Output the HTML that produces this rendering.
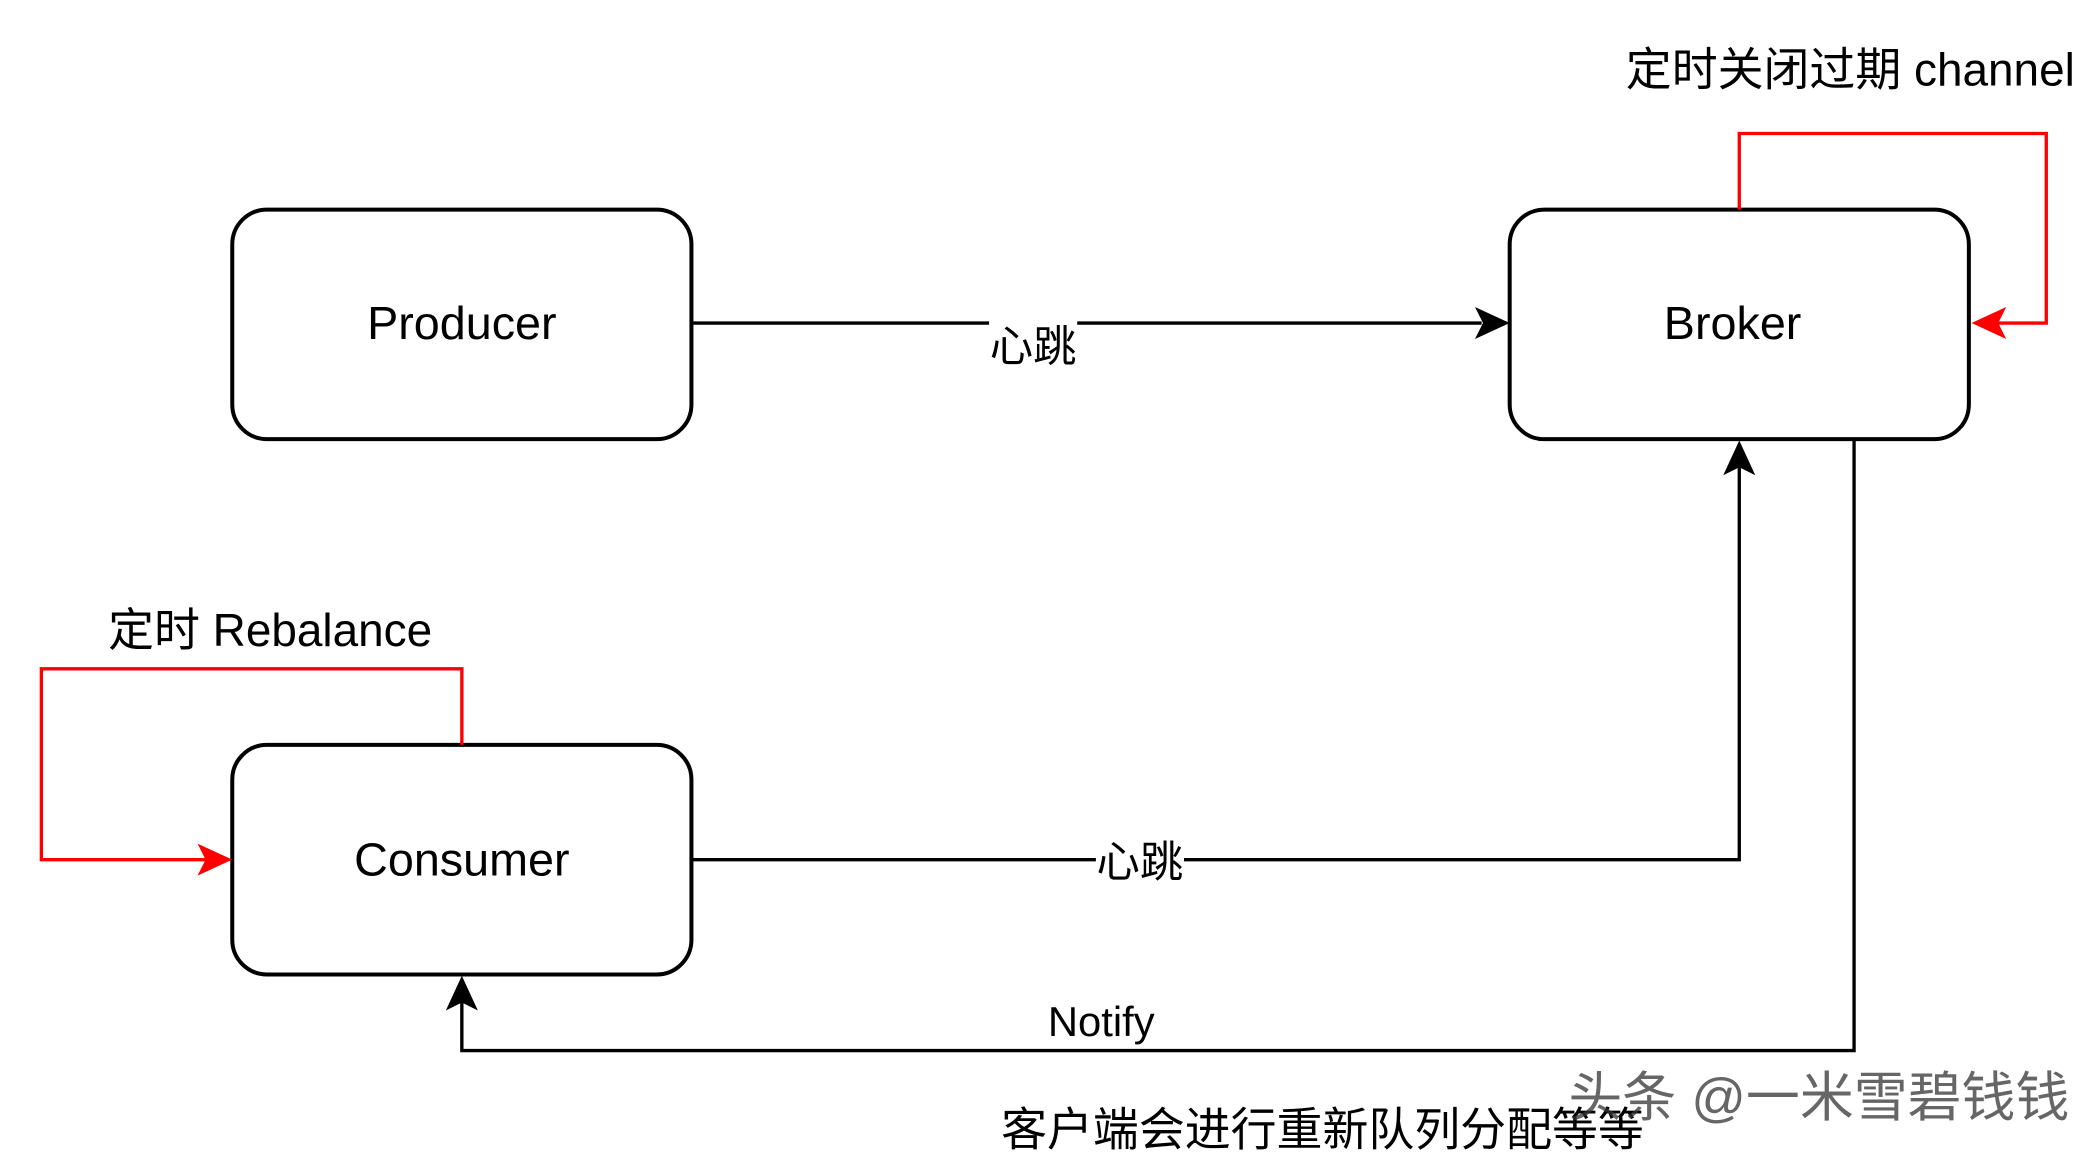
<!DOCTYPE html>
<html><head><meta charset="utf-8"><style>
html,body{margin:0;padding:0;background:#fff;width:2093px;height:1156px;overflow:hidden}
svg{display:block}
text{font-family:"Liberation Sans","Noto Sans CJK SC",sans-serif;}
</style></head><body>
<svg width="2093" height="1156" viewBox="0 0 1568 866" preserveAspectRatio="none" xmlns="http://www.w3.org/2000/svg">
<g fill="none" stroke="#000" stroke-width="3">
<rect x="174" y="157" width="344" height="172" rx="26"/>
<rect x="1131" y="157" width="344" height="172" rx="26"/>
<rect x="174" y="558" width="344" height="172" rx="26"/>
</g>
<g fill="none" stroke="#000" stroke-width="2.5">
<path d="M519 242 H1110"/>
<path d="M519 644 H1303 V350"/>
<path d="M1389 330 V787 H346 V751"/>
</g>
<path d="M1131 242 L1105 230 L1111 242 L1105 254 Z" fill="#000"/>
<path d="M1303 330 L1291 356 L1303 350 L1315 356 Z" fill="#000"/>
<path d="M346 731 L334 757 L346 751 L358 757 Z" fill="#000"/>
<g fill="none" stroke="#f00" stroke-width="2.5">
<path d="M1303 157 V100 H1533 V242 H1495"/>
<path d="M346 558 V501 H31 V644 H155"/>
</g>
<path d="M1477 242 L1503 230 L1497 242 L1503 254 Z" fill="#f00"/>
<path d="M174 644 L148 632 L154 644 L148 656 Z" fill="#f00"/>
<rect x="741" y="232" width="66" height="40" fill="#fff"/>
<rect x="821" y="626" width="66" height="36" fill="#fff"/>
<g font-size="35" fill="#000" text-anchor="middle">
<text x="346" y="254">Producer</text>
<text x="1298" y="254">Broker</text>
<text x="346" y="656">Consumer</text>
</g>
<g fill="#000">
<text x="774" y="271" font-size="32.5" text-anchor="middle">心跳</text>
<text x="854" y="657" font-size="32.5" text-anchor="middle">心跳</text>
<text x="825" y="776" font-size="31.3" text-anchor="middle">Notify</text>
<text x="1218" y="64" font-size="34.4">定时关闭过期 channel</text>
<text x="81" y="484" font-size="34.4">定时 Rebalance</text>
<text x="750" y="858" font-size="34.4">客户端会进行重新队列分配等等</text>
</g>
<text x="1175" y="836" font-size="40.4" fill="#333" fill-opacity="0.75">头条 @一米雪碧钱钱</text>
</svg>
</body></html>
